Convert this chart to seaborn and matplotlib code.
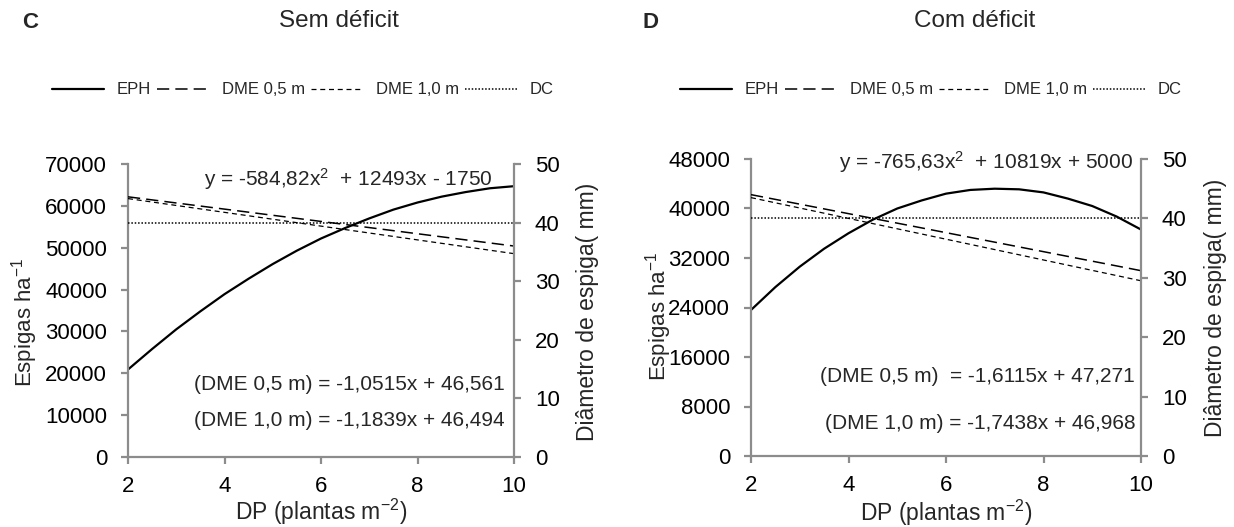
import numpy as np
import pandas as pd
import matplotlib
matplotlib.use("Agg")
import matplotlib.pyplot as plt
import seaborn as sns
from matplotlib.lines import Line2D

sns.set_theme(style="white")
plt.rcParams['font.family'] = ['Liberation Sans', 'DejaVu Sans']
plt.rcParams['mathtext.fontset'] = 'custom'
plt.rcParams['mathtext.rm'] = 'Liberation Sans'
plt.rcParams['mathtext.it'] = 'Liberation Sans:italic'
plt.rcParams['mathtext.bf'] = 'Liberation Sans:bold'

# ---------------- data ----------------
dp_curve = [2, 2.5, 3, 3.5, 4, 4.5, 5, 5.5, 6, 6.5, 7, 7.5, 8, 8.5, 9, 9.5, 10]
dp_line = [2, 10]

# Panel C - Sem deficit
eph_sem = [20900, 25800, 30500, 34800, 38900, 42600, 46100, 49300, 52200,
           54700, 57000, 59100, 60800, 62200, 63300, 64200, 64700]
dme05_sem = [44.4, 36.0]
dme10_sem = [44.1, 34.7]
dc_sem = [40.0, 40.0]

# Panel D - Com deficit
eph_com = [23600, 27300, 30600, 33500, 36000, 38200, 40000, 41300, 42400,
           43000, 43200, 43100, 42600, 41600, 40400, 38700, 36600]
dme05_com = [44.0, 31.2]
dme10_com = [43.5, 29.5]
dc_com = [40.0, 40.0]

panel_letters = ["C", "D"]
panel_titles = ["Sem déficit", "Com déficit"]
legend_labels = ["EPH", "DME 0,5 m", "DME 1,0 m", "DC"]
xticks = [2, 4, 6, 8, 10]
yticks_sem = [0, 10000, 20000, 30000, 40000, 50000, 60000, 70000]
yticks_com = [0, 8000, 16000, 24000, 32000, 40000, 48000]
yticks_right = [0, 10, 20, 30, 40, 50]
eq_sem = ["y = -584,82x$^{\\mathregular{2}}$  + 12493x - 1750",
          "(DME 0,5 m) = -1,0515x + 46,561",
          "(DME 1,0 m) = -1,1839x + 46,494"]
eq_com = ["y = -765,63x$^{\\mathregular{2}}$  + 10819x + 5000",
          "(DME 0,5 m)  = -1,6115x + 47,271",
          "(DME 1,0 m) = -1,7438x + 46,968"]

# ---------------- styling ----------------
W, H = 1234, 527
fig = plt.figure(figsize=(W / 100, H / 100), dpi=100)
GRAY = "#8c8c8c"
TICK_FS = 16
LAB_FS = 16
EQ_FS = 15

STY = {
    "EPH": dict(lw=1.6, ls="-"),
    "DME 0,5 m": dict(lw=1.1, ls=(0, (8, 4))),
    "DME 1,0 m": dict(lw=0.9, ls=(0, (4, 3))),
    "DC": dict(lw=1.1, ls=(0, (1, 1.2))),
}

panels = [
    dict(rect=[128 / W, 1 - 457 / H, (514 - 128) / W, (457 - 164) / H],
         eph=eph_sem, d05=dme05_sem, d10=dme10_sem, dc=dc_sem,
         yt=yticks_sem, eq=eq_sem,
         eqpos=[(0.946, 0.949), (0.977, 0.249), (0.977, 0.123)],
         ylab_l=(-0.269, 0.46), ylab_r=(1.19, 0.495), xlab_y=-0.188,
         letter_x=22, title_x=339, leg_x=303),
    dict(rect=[751 / W, 1 - 456 / H, (1141 - 751) / W, (456 - 159) / H],
         eph=eph_com, d05=dme05_com, d10=dme10_com, dc=dc_com,
         yt=yticks_com, eq=eq_com,
         eqpos=[(0.979, 0.99), (0.985, 0.266), (0.987, 0.108)],
         ylab_l=(-0.238, 0.47), ylab_r=(1.192, 0.5), xlab_y=-0.19,
         letter_x=642, title_x=975, leg_x=931),
]

for i, p in enumerate(panels):
    ax = fig.add_axes(p["rect"])
    ax2 = ax.twinx()

    sns.lineplot(x=dp_curve, y=p["eph"], ax=ax, color="black", lw=STY["EPH"]["lw"])
    for key, vals in [("DME 0,5 m", p["d05"]), ("DME 1,0 m", p["d10"]), ("DC", p["dc"])]:
        sns.lineplot(x=dp_line, y=vals, ax=ax2, color="black", lw=STY[key]["lw"])
        ax2.lines[-1].set_linestyle(STY[key]["ls"])

    ax.set_xlim(2, 10)
    ax.set_ylim(p["yt"][0], p["yt"][-1])
    ax.set_yticks(p["yt"])
    ax.set_xticks(xticks)
    ax2.set_ylim(0, 50)
    ax2.set_yticks(yticks_right)

    for a in (ax, ax2):
        a.grid(False)
        a.set_facecolor("none")
        for s in a.spines.values():
            s.set_color(GRAY)
            s.set_linewidth(1.6)
        a.spines["top"].set_visible(False)
        a.tick_params(axis="both", which="major", labelsize=TICK_FS, colors=GRAY,
                      labelcolor="black", length=5, width=1.6, direction="out")
    ax.spines["right"].set_visible(False)
    ax2.spines["left"].set_visible(False)
    ax2.spines["bottom"].set_visible(False)
    ax.tick_params(axis="y", left=True, pad=10)
    ax.tick_params(axis="x", bottom=True, pad=9)
    ax2.tick_params(axis="y", right=True, pad=10)

    ax.set_xlabel("DP (plantas m$^{\\mathregular{-2}}$)", fontsize=LAB_FS + 0.5)
    ax.set_ylabel("Espigas ha$^{\\mathregular{-1}}$", fontsize=LAB_FS)
    ax2.set_ylabel("Diâmetro de espiga( mm)", fontsize=LAB_FS + 0.5)
    ax.xaxis.label.set_va("center")
    ax.yaxis.label.set_va("center")
    ax2.yaxis.label.set_va("center")
    ax.xaxis.set_label_coords(0.5, p["xlab_y"])
    ax.yaxis.set_label_coords(*p["ylab_l"])
    ax2.yaxis.set_label_coords(*p["ylab_r"])

    for (tx, ty), txt in zip(p["eqpos"], p["eq"]):
        ax.text(tx, ty, txt, transform=ax.transAxes, ha="right", va="center",
                fontsize=EQ_FS, zorder=5)

    fig.text(p["letter_x"] / W, 1 - 22 / H, panel_letters[i], fontsize=16,
             fontweight="bold", ha="left", va="center")
    fig.text(p["title_x"] / W, 1 - 21 / H, panel_titles[i], fontsize=17.5,
             ha="center", va="center")

    handles = [Line2D([], [], color="black", lw=STY[k]["lw"], ls=STY[k]["ls"])
               for k in legend_labels]
    fig.legend(handles, legend_labels, loc="center", ncol=4,
               bbox_to_anchor=(p["leg_x"] / W, 1 - 90 / H), frameon=False,
               fontsize=12, handlelength=3.1, handletextpad=0.8,
               columnspacing=0.35, borderaxespad=0)

fig.savefig("out.png", dpi=100)
